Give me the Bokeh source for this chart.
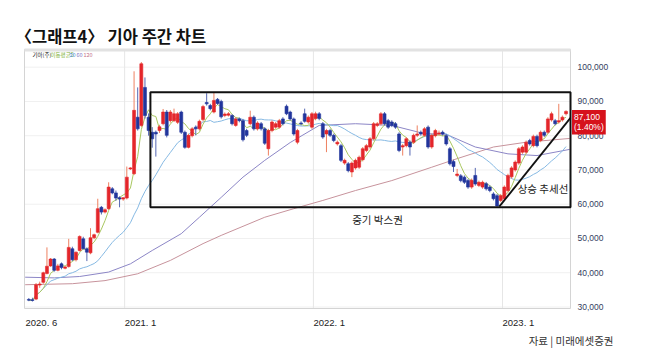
import pandas as pd
from bokeh.plotting import figure
from bokeh.models import ColumnDataSource, Label, Range1d
from bokeh.core.properties import value
from bokeh.embed import file_html
from bokeh.resources import INLINE

# ---------------- data (weekly, KRW) ----------------
opens = [
    32200, 32100, 32300, 36400, 37200, 39800, 42000, 44000, 40700, 42600,
    41300, 41800, 47000, 43800, 46500, 49900, 47000, 45800, 50200, 51800,
    59100, 57700, 58700, 64500, 63300, 61900, 61500, 61800, 70300, 68900,
    85400, 83000, 94100, 85400, 81000, 81000, 81500, 83500, 86900, 84400,
    84400, 83900, 86900, 81000, 76600, 80000, 82500, 82000, 84700, 89700,
    88800, 86900, 90600, 90000, 85900, 86000, 85900, 83000, 84900, 84400,
    81500, 83500, 85400, 82000, 83500, 82000, 76200, 81500, 82500, 82500,
    84900, 88600, 86900, 84900, 78100, 83700, 86400, 84000, 82500, 85000,
    86400, 83500, 80500, 81500, 80100, 77600, 77100, 72000, 71800, 69400,
    70600, 70800, 73000, 75700, 76700, 79100, 83000, 83500, 86400, 84400,
    84000, 83500, 80500, 76700, 77100, 78100, 78100, 80100, 81000, 80100,
    82500, 76700, 80000, 80500, 81000, 80000, 76200, 72500, 68400, 68300,
    67900, 66900, 65000, 68400, 65500, 65000, 66000, 65000, 63000, 62500,
    61100, 61600, 64000, 68000, 70000, 72000, 75200, 75200, 78600, 77100,
    79800, 78600, 81000, 81000, 84600, 84400, 84000, 84600, 86400]
highs = [
    32600, 32700, 37000, 37400, 40300, 47400, 44300, 44300, 42600, 43000,
    41900, 49900, 47600, 46200, 50900, 50500, 47400, 53000, 51400, 61600,
    59500, 58800, 66400, 65000, 64000, 62300, 62000, 71000, 70800, 98800,
    94100, 101500, 97000, 86500, 82500, 81500, 83200, 87800, 87500, 87500,
    87900, 86900, 87300, 81500, 80600, 82500, 83000, 84700, 89000, 92400,
    89300, 92700, 91000, 90500, 86800, 86900, 86300, 85400, 85300, 84900,
    82000, 87300, 85900, 84200, 84000, 82500, 82000, 84500, 84000, 84900,
    85400, 89100, 87300, 85300, 82000, 84200, 87900, 85900, 86900, 87000,
    86900, 84000, 82000, 82000, 80600, 78600, 77600, 73300, 72300, 72500,
    73300, 74200, 76700, 77600, 79600, 84000, 84000, 86900, 86900, 84900,
    84500, 84000, 81000, 77600, 79600, 78600, 80600, 83000, 81500, 82500,
    83000, 80600, 82000, 81500, 81500, 80500, 76700, 73000, 70300, 68800,
    68400, 67400, 67500, 70600, 66900, 66900, 66500, 65500, 63500, 63000,
    63000, 65500, 68900, 71100, 72800, 76700, 77200, 78600, 79100, 80300,
    80300, 81500, 81500, 85400, 87000, 84900, 89300, 85900, 87400]
lows = [
    31700, 31600, 32000, 35600, 36800, 39500, 41700, 40300, 40400, 41000,
    41000, 41500, 43400, 43300, 46200, 46800, 43400, 45400, 49800, 51500,
    57000, 57300, 58300, 62900, 61000, 59100, 61000, 61400, 70000, 68500,
    81500, 82500, 85000, 80000, 76500, 73900, 80800, 83000, 79500, 83800,
    84000, 83400, 80500, 76200, 76300, 79500, 80100, 81500, 84200, 88800,
    87400, 86500, 89000, 85000, 85400, 85600, 83000, 82600, 83900, 78300,
    79600, 83000, 81500, 81500, 81500, 77300, 74200, 81000, 82000, 82000,
    83000, 86000, 84400, 80000, 77500, 83000, 83800, 83500, 82000, 84500,
    84500, 79100, 75200, 79600, 78100, 77100, 72300, 71500, 69300, 67900,
    70100, 70300, 72500, 75200, 76200, 78600, 82500, 83000, 83000, 82000,
    82500, 82000, 75200, 74200, 76600, 74200, 77600, 79600, 80000, 79600,
    76200, 76200, 79500, 80000, 80000, 77100, 71300, 69400, 67900, 66400,
    65900, 64500, 64500, 65400, 65000, 64500, 64000, 63500, 61100, 59300,
    60600, 61100, 63500, 67500, 69500, 71500, 74700, 74700, 77100, 76600,
    76600, 78100, 79600, 80500, 84100, 83000, 83500, 84100, 85900]
closes = [
    32000, 31900, 36500, 36700, 40000, 41900, 44000, 40700, 42000, 41500,
    41700, 47400, 43800, 46000, 50600, 47000, 46000, 50200, 51100, 58700,
    57700, 58400, 65000, 63300, 61800, 61500, 61900, 67900, 70600, 87400,
    82000, 101000, 85900, 81500, 79100, 80500, 82600, 86900, 80100, 86900,
    86400, 86400, 81000, 76600, 80100, 82000, 82000, 84200, 88500, 89300,
    87900, 90300, 89400, 85500, 86300, 86400, 83500, 84900, 84400, 78800,
    80100, 85400, 82000, 83700, 82000, 77800, 81500, 84000, 83500, 84400,
    83500, 86400, 84900, 80500, 81500, 83500, 84200, 85400, 86400, 86400,
    85000, 79600, 81500, 80100, 78600, 78100, 72800, 72800, 69800, 72000,
    72800, 73700, 76200, 77100, 79100, 83500, 83500, 86400, 83500, 82500,
    83000, 82500, 75700, 77100, 79100, 76700, 80100, 80500, 80500, 82000,
    76700, 80100, 81500, 80800, 80500, 77600, 71800, 71000, 68800, 66900,
    66400, 65000, 67000, 65900, 66400, 66400, 64500, 64000, 61600, 59500,
    62500, 65000, 68400, 70600, 72300, 76200, 76700, 78100, 77600, 79800,
    77100, 81000, 80100, 84900, 86400, 83500, 84400, 85400, 87100]
weeks = list(range(len(closes)))

# long moving averages (week index, price)
ma60_week = [-1, 7, 14, 22, 28, 34, 42, 47, 53, 59, 65, 72, 80, 90, 100, 109, 115, 123, 132, 140, 149]
ma60_val = [38700, 38500, 38900, 40200, 42600, 46500, 51400, 56200, 62000, 67900, 72800, 78000,
            83000, 83500, 83000, 80600, 80400, 76700, 74700, 74200, 76000]
ma120_week = [-1, 12, 21, 30, 39, 48, 53, 65, 73, 81, 90, 100, 111, 118, 128, 137, 149]
ma120_val = [36500, 36800, 37700, 39700, 43600, 48500, 50900, 56200, 58700, 61100, 64000, 66900,
             70800, 73300, 76700, 78100, 79200]

year_start_week = [26.4, 78.4, 130.5]            # 2021.1, 2022.1, 2023.1
x_tick_labels = ["2020. 6", "2021. 1", "2022. 1", "2023. 1"]
y_tick_values = [30000, 40000, 50000, 60000, 70000, 80000, 90000, 100000]

box_start_week = 33.5
box_prices = [59100, 92700]
trend_start = (129.6, 59300)
trend_end_price = 85200
last_close = 87100
last_change = "1.40%"

title_text = "〈그래프4〉 기아 주간 차트"
source_text = "자료 | 미래에셋증권"

# ---------------- canvas geometry (pixels) ----------------
W, H = 650, 357
FIRST_PX, PX_PER_WEEK = 28.3, 3.63        # x pixel of week 0, spacing
Y30K_PX, PX_PER_WON = 306.5, 3.426 / 1000  # y pixel of 30,000, scale


def wx(px):
    return (px - FIRST_PX) / PX_PER_WEEK


def vy(py):
    return 30000 + (Y30K_PX - py) / PX_PER_WON


PL, PR, PT, PB = wx(24), wx(570), vy(49), vy(308)   # plot area

p = figure(width=W, height=H, x_range=Range1d(wx(0), wx(W)), y_range=Range1d(vy(H), vy(0)),
           x_axis_location=None, y_axis_location=None, title=None,
           toolbar_location=None, output_backend="svg",
           min_border_left=0, min_border_right=0, min_border_top=0, min_border_bottom=0)
p.background_fill_color = "white"
p.border_fill_color = "white"
p.outline_line_color = None
p.grid.visible = False

KFONT = "Noto Sans CJK KR"
NFONT = "Liberation Sans"

# grid
p.segment(x0=[PL] * len(y_tick_values), x1=[PR] * len(y_tick_values),
          y0=y_tick_values, y1=y_tick_values, line_color="#f0f0f0", line_width=1)
p.segment(x0=year_start_week, x1=year_start_week, y0=[PB] * 3, y1=[PT] * 3,
          line_color="#e6e6e6", line_width=1)

# moving averages
ma5 = pd.Series(closes).rolling(5, min_periods=1).mean().tolist()
ma20 = pd.Series(closes).rolling(20, min_periods=1).mean().tolist()
p.line(ma120_week, ma120_val, line_color="#c7939c", line_width=1)
p.line(ma60_week, ma60_val, line_color="#8c86c6", line_width=1)
p.line(weeks, ma20, line_color="#86b9e3", line_width=1)
p.line(weeks, ma5, line_color="#a9c760", line_width=1)

# candles
up_col, dn_col = "#e4262b", "#22359c"
up_wick, dn_wick = "#ee8060", "#5567b3"
is_up = [c >= o for o, c in zip(opens, closes)]
src = ColumnDataSource(dict(
    week=weeks, high=highs, low=lows,
    top=[max(o, c) for o, c in zip(opens, closes)],
    bottom=[min(o, c) for o, c in zip(opens, closes)],
    color=[up_col if u else dn_col for u in is_up],
    wick=[up_wick if u else dn_wick for u in is_up],
))
p.segment(x0="week", y0="low", x1="week", y1="high", line_color="wick", line_width=1, source=src)
p.vbar(x="week", width=0.82, top="top", bottom="bottom", fill_color="color",
       line_color="color", line_width=0.6, source=src)

# plot frame
p.quad(left=[PL], right=[PR], bottom=[PB], top=[PT], fill_color=None,
       line_color="#d4d4d4", line_width=1)
p.segment(x0=[PL], x1=[PR], y0=[vy(49.5)], y1=[vy(49.5)], line_color="#e2e2e2", line_width=3)

# box range and trend line
p.quad(left=[box_start_week], right=[PR], bottom=[box_prices[0]], top=[box_prices[1]],
       fill_color=None, line_color="#111111", line_width=2)
p.line([trend_start[0], PR], [trend_start[1], trend_end_price], line_color="#111111", line_width=1.8)

p.add_layout(Label(x=wx(377), y=vy(219), text="중기 박스권", text_align="center",
                   text_baseline="middle", text_font=KFONT, text_font_size="10.5px",
                   text_color="#222222"))
p.add_layout(Label(x=wx(542.5), y=vy(188), text="상승 추세선", text_align="center",
                   text_baseline="middle", text_font=KFONT, text_font_size="10.5px",
                   text_color="#222222"))

# y tick labels (right)
p.text(x=[PR] * len(y_tick_values), y=y_tick_values, text=[f"{v:,}" for v in y_tick_values],
       x_offset=7, text_align="left", text_baseline="middle", text_font=value(NFONT),
       text_font_size="8.5px", text_color="#34405e")

# x tick labels, left-aligned at the year lines
p.text(x=[wx(25)] + year_start_week, y=[vy(322)] * 4, text=x_tick_labels,
       text_align="left", text_baseline="middle", text_font=value(NFONT),
       text_font_size="9.5px", text_color="#222222")

# price tag at right
p.add_layout(Label(x=PR, y=last_close, x_offset=1.5, y_offset=1.5,
                   text=f"{last_close:,}\n({last_change})",
                   text_align="left", text_baseline="top", text_font=NFONT,
                   text_font_size="8.5px", text_color="white", text_line_height=1.05,
                   background_fill_color="#d6121c", padding=2))

# tiny legend
for xpx, txt, col in [(32, "기아(주)", "#222222"), (50, "이동평균5", "#7fb23a"),
                      (69, "20", "#4a90d9"), (76, "60", "#7a6fc0"), (83, "120", "#c46f85")]:
    p.add_layout(Label(x=xpx, y=H - 54, x_units="screen", y_units="screen", text=txt,
                       text_baseline="middle", text_font=KFONT, text_font_size="5.5px",
                       text_color=col))

# title and source note
p.add_layout(Label(x=15, y=H - 35, x_units="screen", y_units="screen", text=title_text,
                   text_align="left", text_baseline="middle", text_font=KFONT,
                   text_font_size="16.5px", text_font_style="bold", text_color="#111111"))
p.add_layout(Label(x=613, y=H - 340, x_units="screen", y_units="screen", text=source_text,
                   text_align="right", text_baseline="middle", text_font=KFONT,
                   text_font_size="10.5px", text_color="#333333"))

open("out.html", "w").write(file_html(p, INLINE))
